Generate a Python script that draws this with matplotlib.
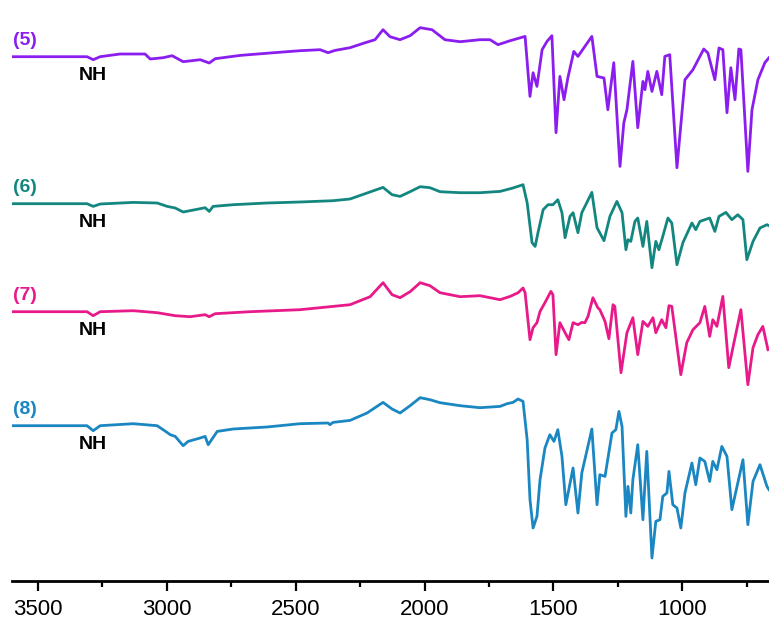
import matplotlib
matplotlib.use("Agg")
import matplotlib.pyplot as plt
from matplotlib.ticker import MultipleLocator

plt.rcParams['font.family'] = ['Liberation Sans', 'DejaVu Sans']

# FT-IR spectra of compounds 5-8, wavenumber (cm-1) vs relative transmittance
wn_5 = [3596, 3309, 3285, 3258, 3181, 3084, 3064, 3014, 2979, 2936, 2870, 2835, 2812,
        2715, 2599, 2483, 2405, 2374, 2347, 2289, 2230, 2192, 2161, 2134, 2095, 2056,
        2017, 1971, 1921, 1862, 1785, 1746, 1715, 1668, 1610, 1591, 1579, 1564, 1544,
        1525, 1506, 1490, 1475, 1459, 1444, 1421, 1405, 1351, 1331, 1304, 1289, 1266,
        1242, 1227, 1215, 1192, 1173, 1153, 1145, 1134, 1118, 1099, 1080, 1068, 1049,
        1021, 990, 959, 917, 901, 874, 858, 843, 827, 812, 796, 781, 773, 746, 730,
        707, 680, 664]
tr_5 = [0, 0, -3, 0, 2.7, 2.7, -2.3, -1, 1, -5, -3, -6.3, -2,
        1.3, 3.7, 6, 7, 4, 6.3, 9, 14, 17, 27, 20, 17, 21,
        29, 27, 17, 15, 17, 17, 12, 16, 20.3, -39.7, -16, -29.7, 7,
        15.3, 21, -76, -19.7, -43, -21, 5.3, 0.3, 20.3, -19.7, -21.3, -53, -6,
        -109.7, -66, -53, -4.7, -71, -24.7, -33, -14.7, -34.7, -14.7, -38, 0.3, 2,
        -111, -23, -13, 7.7, 3.7, -23, 8.7, 7, -56, -11, -43, 7.7, 7, -114.7, -53,
        -23, -6, -1]

wn_6 = [3596, 3309, 3285, 3258, 3130, 3037, 2998, 2967, 2936, 2870, 2851, 2835, 2820,
        2742, 2611, 2483, 2355, 2289, 2223, 2161, 2126, 2095, 2056, 2017, 1979, 1940,
        1862, 1785, 1707, 1657, 1618, 1602, 1583, 1571, 1560, 1540, 1521, 1502, 1483,
        1467, 1455, 1436, 1424, 1405, 1390, 1351, 1331, 1304, 1281, 1254, 1234, 1219,
        1211, 1200, 1184, 1173, 1153, 1138, 1118, 1103, 1091, 1076, 1056, 1041, 1021,
        998, 963, 948, 932, 894, 874, 858, 831, 808, 785, 765, 750, 726, 699, 672, 664]
tr_6 = [0, 0, -2.7, -0.3, 1.3, 0.7, -2.7, -4.3, -8.3, -5, -4, -7.7, -2.7,
        -1, 0.7, 1.7, 3, 4.7, 10.7, 16.3, 9, 7.3, 12, 17, 16, 12,
        11, 11, 12.3, 15.7, 19, 1, -39, -42.7, -29, -6, -1, -1, 4,
        -9, -34, -12.7, -9, -29, -9, 11.3, -24, -37, -12.7, 2.3, -9, -46,
        -36, -37.7, -17.7, -14.3, -42.7, -17.7, -64, -37.7, -46, -32.7, -14.3, -19.3, -61,
        -39, -19.3, -26, -17.7, -14.3, -27.7, -12.7, -8.7, -16, -11, -16, -56, -37.7, -24.3, -21, -22]

wn_7 = [3596, 3309, 3285, 3258, 3130, 3037, 2967, 2909, 2851, 2835, 2812, 2676, 2483,
        2289, 2211, 2161, 2126, 2095, 2056, 2017, 1979, 1940, 1862, 1785, 1707, 1668,
        1637, 1618, 1610, 1591, 1579, 1564, 1552, 1533, 1510, 1502, 1490, 1475, 1455,
        1440, 1424, 1405, 1390, 1378, 1366, 1347, 1328, 1320, 1300, 1285, 1269, 1262,
        1238, 1215, 1192, 1173, 1153, 1134, 1114, 1103, 1080, 1064, 1052, 1041, 1029,
        1006, 983, 959, 932, 913, 894, 882, 866, 843, 820, 804, 773, 746, 726, 707,
        688, 668]
tr_7 = [0, 0, -4, 0, 1, -1, -4, -5, -3, -5, -2, 0, 2,
        7, 15, 29, 17, 14, 20, 29, 26, 19, 15, 16, 12, 15.3,
        19, 23.7, 19, -28, -16, -11, 0.3, 9, 20.3, 17, -43, -11, -21,
        -28, -11, -13, -10.7, -11, -4.7, 14, 4, 2, -9.7, -27, 7, 5.3,
        -61, -21, -6, -43, -9.7, -14.7, -6, -21, -8, -16, 6, 5.3, -18,
        -63, -31, -18, -11, 5.3, -24.7, -8, -14.7, 15.3, -56, -36, 2, -73, -36, -23,
        -14.7, -38]

wn_8 = [3596, 3309, 3285, 3258, 3130, 3037, 3014, 2986, 2967, 2936, 2917, 2870, 2851,
        2839, 2804, 2742, 2611, 2483, 2374, 2367, 2355, 2289, 2223, 2161, 2126, 2095,
        2056, 2017, 1979, 1940, 1862, 1785, 1707, 1680, 1657, 1637, 1618, 1602, 1591,
        1579, 1564, 1552, 1533, 1514, 1498, 1483, 1467, 1452, 1424, 1405, 1390, 1351,
        1331, 1320, 1300, 1273, 1258, 1246, 1234, 1219, 1211, 1200, 1192, 1173, 1153,
        1138, 1118, 1103, 1087, 1076, 1060, 1052, 1037, 1021, 1006, 990, 963, 948, 932,
        913, 894, 882, 866, 847, 827, 808, 765, 746, 726, 699, 672, 664]
tr_8 = [0, 0, -5, 0, 2, 0, -4, -9, -10.7, -20, -15.7, -12.3, -10.7,
        -19, -5.7, -3.3, -1.3, 2, 2.7, 1, 3.3, 5.3, 12.7, 23.3, 16.7, 12.7,
        20, 28, 26, 23, 20, 18, 19.3, 22, 23.3, 26.7, 24.3, -14, -74,
        -102.3, -90.7, -54, -22.3, -9, -15.7, -4, -30.7, -79, -42.3, -87.3, -47.3, -3.3,
        -79, -49, -50.7, -7.3, -4, 14.3, -0.7, -90.7, -60.7, -87.3, -54, -19, -94,
        -25.7, -132.3, -95.7, -94, -70.7, -67.3, -45.7, -79, -82.3, -102.3, -67.3, -37.3, -59, -32.3,
        -35.7, -55.7, -35.7, -44, -20.7, -30.7, -84, -34, -99, -55.7, -39, -60.7, -64]

labels = ['(5)', '(6)', '(7)', '(8)']
offsets = [524, 377, 269, 155]
colors = ['#8B1EEE', '#13877F', '#E81A8A', '#1A86C2']
spectra = [(wn_5, tr_5), (wn_6, tr_6), (wn_7, tr_7), (wn_8, tr_8)]
nh_band = 3285

fig = plt.figure(figsize=(7.69, 6.26), dpi=100)
ax = fig.add_axes([12 / 769, 45.3 / 626, 757 / 769, 580.7 / 626])

for (wn, tr), off, col, lab in zip(spectra, offsets, colors, labels):
    assert len(wn) == len(tr)
    ax.plot(wn, [off + t for t in tr], color=col, linewidth=2,
            solid_joinstyle='round')
    ax.text(3598, off + 16, lab, color=col, fontsize=14, fontweight='bold',
            ha='left', va='center')
    ax.text(nh_band, off - 19, 'NH', color='black', fontsize=14, fontweight='bold',
            ha='center', va='center')

ax.set_xlim(3600, 664)
ax.set_ylim(0, 580.7)

for s in ['left', 'right', 'top']:
    ax.spines[s].set_visible(False)
ax.spines['bottom'].set_linewidth(2)
ax.set_yticks([])
ax.xaxis.set_major_locator(MultipleLocator(500))
ax.xaxis.set_minor_locator(MultipleLocator(250))
ax.tick_params(axis='x', which='major', length=7, width=1.6, labelsize=16, pad=6)
ax.tick_params(axis='x', which='minor', length=4.5, width=1.6)
ax.patch.set_alpha(0)

fig.savefig('out.png', dpi=100)
plt.close(fig)
